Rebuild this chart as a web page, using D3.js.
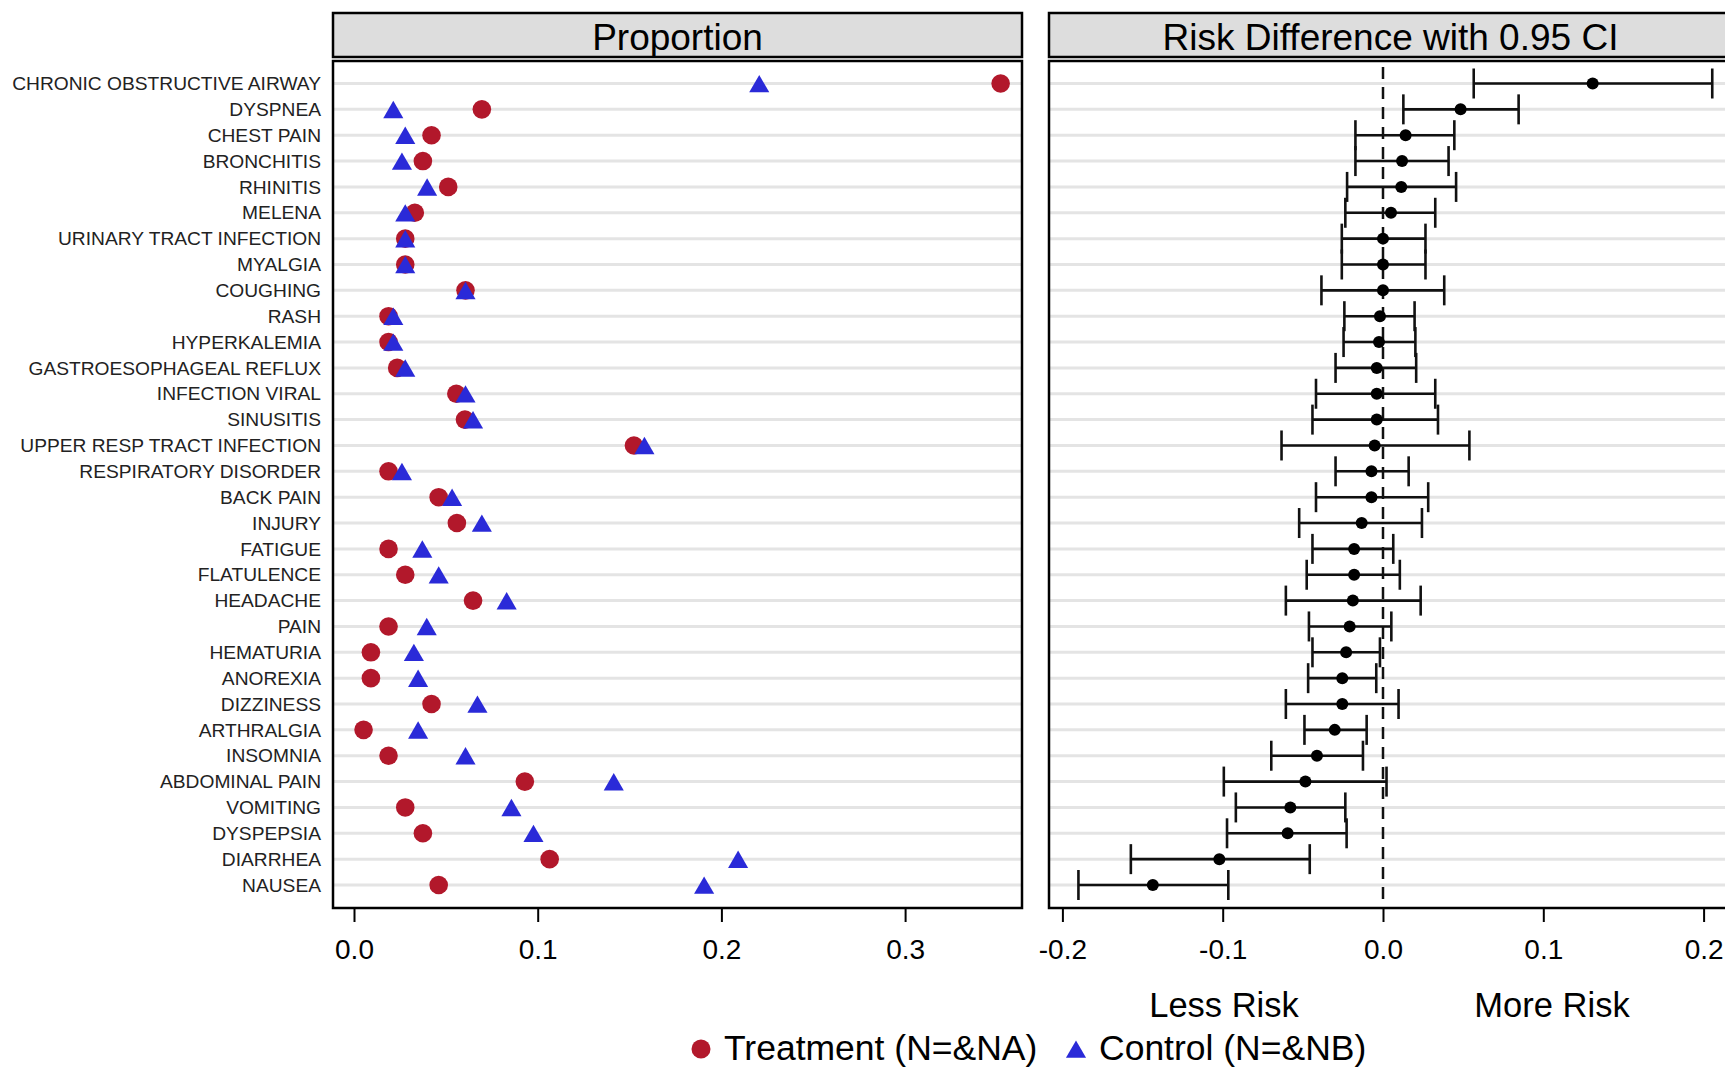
<!DOCTYPE html>
<html>
<head>
<meta charset="utf-8">
<script src="https://cdn.jsdelivr.net/npm/d3@7"></script>
<style>
  body { margin: 0; background: #fff; }
  text { font-family: "Liberation Sans", Arial, sans-serif; }
</style>
</head>
<body>
<div id="plot"></div>
<script>
// adverse events, top to bottom
var events = ["CHRONIC OBSTRUCTIVE AIRWAY", "DYSPNEA", "CHEST PAIN", "BRONCHITIS", "RHINITIS",
  "MELENA", "URINARY TRACT INFECTION", "MYALGIA", "COUGHING", "RASH", "HYPERKALEMIA",
  "GASTROESOPHAGEAL REFLUX", "INFECTION VIRAL", "SINUSITIS", "UPPER RESP TRACT INFECTION",
  "RESPIRATORY DISORDER", "BACK PAIN", "INJURY", "FATIGUE", "FLATULENCE", "HEADACHE", "PAIN",
  "HEMATURIA", "ANOREXIA", "DIZZINESS", "ARTHRALGIA", "INSOMNIA", "ABDOMINAL PAIN", "VOMITING",
  "DYSPEPSIA", "DIARRHEA", "NAUSEA"];

var treatment = [0.352, 0.0696, 0.0422, 0.0375, 0.0513, 0.0331, 0.0279, 0.0279, 0.0607, 0.0188, 0.0188,
  0.0235, 0.0557, 0.0604, 0.1524, 0.0188, 0.0461, 0.056, 0.0188, 0.0279, 0.0648, 0.0188,
  0.0092, 0.0092, 0.0422, 0.0052, 0.0188, 0.093, 0.0279, 0.0375, 0.1065, 0.0461];

var control = [0.2206, 0.0214, 0.0279, 0.0261, 0.0398, 0.0279, 0.0279, 0.0279, 0.0607, 0.0214, 0.0214,
  0.0279, 0.0607, 0.0648, 0.1581, 0.0261, 0.0534, 0.0696, 0.0372, 0.0461, 0.0831, 0.0396,
  0.0326, 0.0349, 0.0672, 0.0349, 0.0607, 0.1414, 0.0857, 0.0977, 0.2091, 0.1906];

var riskDiff = [0.1308, 0.0484, 0.0141, 0.0119, 0.0114, 0.005, 0.0, 0.0, 0.0, -0.0019, -0.0025,
  -0.0039, -0.0039, -0.0039, -0.0052, -0.0072, -0.0072, -0.0133, -0.018, -0.018, -0.0188, -0.0208,
  -0.023, -0.0254, -0.0254, -0.0301, -0.0412, -0.0484, -0.0578, -0.0595, -0.1021, -0.1436];

var lowerCI = [0.0566, 0.0127, -0.0172, -0.0172, -0.0224, -0.0235, -0.0257, -0.0257, -0.0384, -0.0241, -0.0246,
  -0.0296, -0.0418, -0.044, -0.0633, -0.0296, -0.0418, -0.0523, -0.044, -0.0476, -0.0606, -0.0462,
  -0.044, -0.0467, -0.0606, -0.049, -0.0697, -0.0993, -0.0918, -0.0973, -0.1573, -0.19];

var upperCI = [0.2054, 0.0846, 0.0445, 0.0409, 0.0456, 0.0326, 0.0265, 0.0265, 0.0382, 0.0197, 0.0202,
  0.0207, 0.0326, 0.0343, 0.0539, 0.016, 0.0282, 0.0243, 0.0064, 0.0105, 0.0235, 0.0052,
  -0.0019, -0.0042, 0.0097, -0.0102, -0.0125, 0.0022, -0.0235, -0.0227, -0.0457, -0.0965];

var propTicks = [0.0, 0.1, 0.2, 0.3];
var riskTicks = [-0.2, -0.1, 0.0, 0.1, 0.2];

var rows = events.map(function (e, i) {
  return { name: e, trt: treatment[i], ctl: control[i], rd: riskDiff[i], lo: lowerCI[i], hi: upperCI[i] };
});

var W = 1725, H = 1069;
var red = "#b2182b", blue = "#2a2ad8";

var svg = d3.select("#plot").append("svg")
  .attr("width", W)
  .attr("height", H);

svg.append("rect").attr("width", W).attr("height", H).attr("fill", "#fff");

var plotTop = 61, plotBottom = 908, headTop = 13, headBottom = 57;
var left = { x0: 333, x1: 1022 };
var right = { x0: 1049, x1: 1732 };

var y = d3.scalePoint().domain(events).range([83.5, 885]);
var xL = d3.scaleLinear().domain([0, 0.3]).range([354, 905.1]);
var xR = d3.scaleLinear().domain([-0.2, 0.2]).range([1062.4, 1703.6]);

function panel(p, title) {
  // header strip
  svg.append("rect")
    .attr("x", p.x0).attr("y", headTop)
    .attr("width", p.x1 - p.x0).attr("height", headBottom - headTop)
    .attr("fill", "#dddddd").attr("stroke", "#000").attr("stroke-width", 2.5);
  svg.append("text")
    .attr("x", (p.x0 + p.x1) / 2).attr("y", 50)
    .attr("text-anchor", "middle")
    .style("font-size", "37px")
    .text(title);
  // row reference lines
  svg.append("g").selectAll("line")
    .data(events).join("line")
    .attr("x1", p.x0).attr("x2", p.x1)
    .attr("y1", d => y(d)).attr("y2", d => y(d))
    .attr("stroke", "#e4e4e4").attr("stroke-width", 3);
}

panel(left, "Proportion");
panel(right, "Risk Difference with 0.95 CI");

// category labels
svg.append("g").selectAll("text")
  .data(events).join("text")
  .attr("x", 321).attr("y", d => y(d))
  .attr("dy", "0.35em")
  .attr("text-anchor", "end")
  .attr("fill", "#222")
  .style("font-size", "19.2px")
  .text(d => d);

// proportion markers: circles first, triangles on top
svg.append("g").selectAll("circle")
  .data(rows).join("circle")
  .attr("cx", d => xL(d.trt)).attr("cy", d => y(d.name))
  .attr("r", 9.3)
  .attr("fill", red);

var tri = d3.symbol().type(d3.symbolTriangle).size(175);
svg.append("g").selectAll("path")
  .data(rows).join("path")
  .attr("d", tri)
  .attr("transform", d => `translate(${xL(d.ctl)},${y(d.name) + 3})`)
  .attr("fill", blue);

// zero reference
svg.append("line")
  .attr("x1", xR(0)).attr("x2", xR(0))
  .attr("y1", plotTop + 6).attr("y2", plotBottom)
  .attr("stroke", "#111").attr("stroke-width", 2.5)
  .attr("stroke-dasharray", "12,8");

// risk difference with CI
var ci = svg.append("g").selectAll("g")
  .data(rows).join("g")
  .attr("stroke", "#111").attr("stroke-width", 2.6);
ci.append("line")
  .attr("x1", d => xR(d.lo)).attr("x2", d => xR(d.hi))
  .attr("y1", d => y(d.name)).attr("y2", d => y(d.name));
ci.append("line")
  .attr("x1", d => xR(d.lo)).attr("x2", d => xR(d.lo))
  .attr("y1", d => y(d.name) - 15).attr("y2", d => y(d.name) + 15);
ci.append("line")
  .attr("x1", d => xR(d.hi)).attr("x2", d => xR(d.hi))
  .attr("y1", d => y(d.name) - 15).attr("y2", d => y(d.name) + 15);
ci.append("circle")
  .attr("cx", d => xR(d.rd)).attr("cy", d => y(d.name))
  .attr("r", 6).attr("fill", "#000").attr("stroke", "none");

// panel frames
[left, right].forEach(function (p) {
  svg.append("rect")
    .attr("x", p.x0).attr("y", plotTop)
    .attr("width", p.x1 - p.x0).attr("height", plotBottom - plotTop)
    .attr("fill", "none").attr("stroke", "#000").attr("stroke-width", 2.5);
});

// axes
function styleAxis(g) {
  g.select(".domain").remove();
  g.selectAll(".tick line").attr("stroke", "#000").attr("stroke-width", 2);
  g.selectAll(".tick text").attr("fill", "#000").style("font-size", "28px")
    .style("font-family", "'Liberation Sans', Arial, sans-serif");
}

var fmt = function (d) { return d.toFixed(1); };

svg.append("g")
  .attr("transform", `translate(0,${plotBottom})`)
  .call(d3.axisBottom(xL).tickValues(propTicks).tickFormat(fmt).tickSize(14).tickPadding(17))
  .call(styleAxis);

svg.append("g")
  .attr("transform", `translate(0,${plotBottom})`)
  .call(d3.axisBottom(xR).tickValues(riskTicks).tickFormat(fmt).tickSize(14).tickPadding(17))
  .call(styleAxis);

svg.append("text")
  .attr("x", 1224).attr("y", 1017)
  .attr("text-anchor", "middle")
  .style("font-size", "34.5px")
  .text("Less Risk");
svg.append("text")
  .attr("x", 1552).attr("y", 1017)
  .attr("text-anchor", "middle")
  .style("font-size", "34.5px")
  .text("More Risk");

// legend
var legend = svg.append("g");
legend.append("circle").attr("cx", 701).attr("cy", 1049).attr("r", 9.5).attr("fill", red);
legend.append("text").attr("x", 724).attr("y", 1060).style("font-size", "35.5px").text("Treatment (N=&NA)");
legend.append("path").attr("d", tri).attr("transform", "translate(1076,1052)").attr("fill", blue);
legend.append("text").attr("x", 1099).attr("y", 1060).style("font-size", "35.5px").text("Control (N=&NB)");
</script>
</body>
</html>
